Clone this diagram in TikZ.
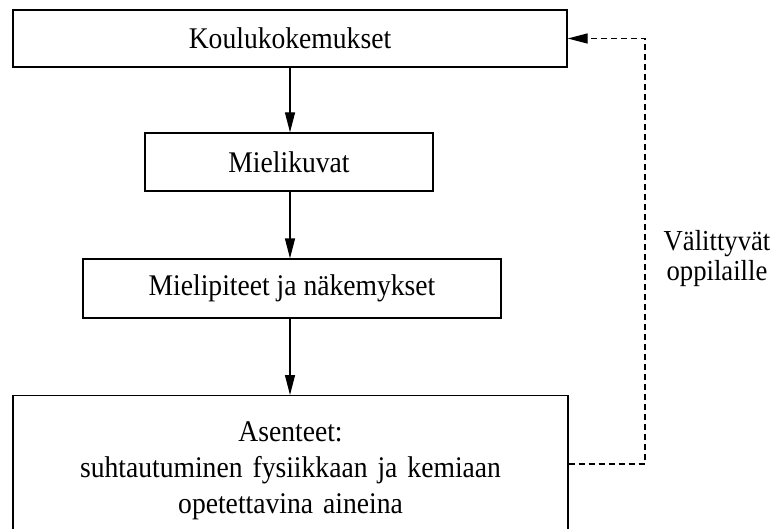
\documentclass[tikz,border=0pt]{standalone}
\usepackage{fontspec}
\setmainfont{Liberation Serif}[FakeStretch=0.92]
\usetikzlibrary{arrows.meta}
\begin{document}
\begin{tikzpicture}[x=1pt,y=-1pt,
  box/.style={draw, line width=1.3pt, inner sep=0pt, font=\fontsize{30}{36}\selectfont},
  flow/.style={line width=1.3pt, -{Triangle[length=20pt,width=10pt]}},
  fb/.style={line width=1.3pt, dash pattern=on 6pt off 4pt, -{Triangle[length=20pt,width=10pt]}},
  lbl/.style={font=\fontsize{29}{30}\selectfont, align=center, inner sep=0pt}]
\useasboundingbox (0,0) rectangle (778,529);
\node[box, minimum width=554pt, minimum height=57pt] (k) at (290,38.5) {Koulukokemukset};
\node[box, minimum width=288pt, minimum height=58pt] (m) at (289,162) {Mielikuvat};
\node[box, minimum width=418pt, minimum height=59pt] (n) at (292,288.5) {Mielipiteet ja näkemykset};
\node[box, anchor=north, text width=555pt, align=center, inner ysep=17pt, minimum height=150pt] (a) at (290.5,395)
  {Asenteet:\\suhtautuminen fysiikkaan ja kemiaan\\opetettavina aineina};
\coordinate (c1) at (645,464);
\coordinate (c2) at (645,38.5);
\draw[flow] (290,0 |- k.south) -- (290,0 |- m.north);
\draw[flow] (290,0 |- m.south) -- (290,0 |- n.north);
\draw[flow] (290,0 |- n.south) -- (290,0 |- a.north);
\draw[fb] (a.east |- c1) -- (c1) -- (c2) -- (k.east);
\node[lbl] (v) at (717,259) {Välittyvät\\oppilaille};
\end{tikzpicture}
\end{document}
